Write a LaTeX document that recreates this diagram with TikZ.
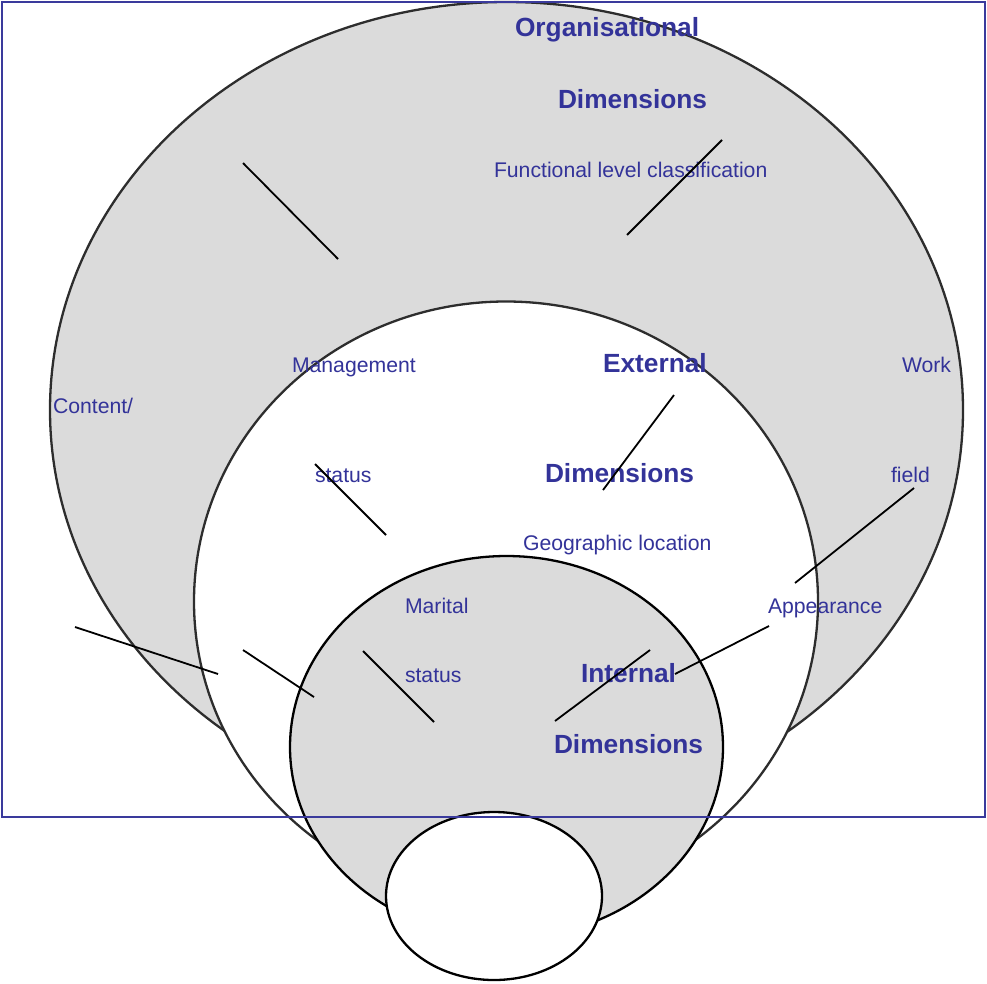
\documentclass[tikz,border=0pt]{standalone}
\usepackage{fontspec}
\setmainfont{Liberation Sans}
\usetikzlibrary{shapes.geometric}
\definecolor{txtblue}{RGB}{51,51,153}
\definecolor{frameblue}{RGB}{58,58,156}
\definecolor{shade}{RGB}{219,219,219}
\definecolor{rimgray}{RGB}{45,45,45}
\tikzset{
  ring/.style={ellipse, inner sep=0pt, outer sep=0pt, line width=2.3pt},
  lbl/.style={anchor=base west, inner sep=0pt, outer sep=0pt, text=txtblue,
              font=\fontsize{21.2}{25}\selectfont},
  head/.style={lbl, font=\fontsize{26.3}{30}\selectfont\bfseries},
  leader/.style={draw=black, line width=1.8pt},
}
\begin{document}
\begin{tikzpicture}[x=1pt,y=-1pt]
\useasboundingbox (0,0) rectangle (987,983);
% circles
\node[ring, draw=rimgray, fill=shade, minimum width=913pt, minimum height=816pt] (org) at (506.5,410) {};
\node[ring, draw=rimgray, fill=white, minimum width=624pt, minimum height=600pt] (ext) at (506,601.5) {};
\node[ring, draw=black, fill=shade, minimum width=433pt, minimum height=382pt] (int) at (506.5,747) {};
\node[ring, draw=black, fill=white, minimum width=216pt, minimum height=168pt] (core) at (494,896) {};
% labels
\node[head] (t1) at (515,36) {Organisational};
\node[head] (t2) at (558,108) {Dimensions};
\node[lbl] (t3) at (494,177) {Functional level classification};
\node[lbl] (t4) at (292,372) {Management};
\node[lbl] (t5) at (53,413) {Content/};
\node[lbl] (t6) at (315,482) {status};
\node[head] (t7) at (603,372) {External};
\node[head] (t8) at (545,482) {Dimensions};
\node[lbl] (t9) at (902,372) {Work};
\node[lbl] (t10) at (891,482) {field};
\node[lbl] (t11) at (523,550) {Geographic location};
\node[lbl] (t12) at (405,613) {Marital};
\node[lbl] (t13) at (405,682) {status};
\node[lbl] (t14) at (768,613) {Appearance};
\node[head] (t15) at (581,682) {Internal};
\node[head] (t16) at (554,753) {Dimensions};
% leader line ends
\coordinate (a1) at (243,163); \coordinate (b1) at (338,259);
\coordinate (a2) at (722,140); \coordinate (b2) at (627,235);
\coordinate (a3) at (674,395); \coordinate (b3) at (603,490);
\coordinate (a4) at (315,464); \coordinate (b4) at (386,535);
\coordinate (a5) at (914,488); \coordinate (b5) at (795,583);
\coordinate (a6) at (75,627);  \coordinate (b6) at (218,674);
\coordinate (a7) at (243,650); \coordinate (b7) at (314,697);
\coordinate (a8) at (363,651); \coordinate (b8) at (434,722);
\coordinate (a9) at (650,650); \coordinate (b9) at (555,721);
\coordinate (a10) at (769,626); \coordinate (b10) at (675,674);
\foreach \i in {1,...,10} { \draw[leader] (a\i) -- (b\i); }
% frame
\coordinate (f1) at (2,2); \coordinate (f2) at (985,817);
\draw[frameblue, line width=2pt] (f1) rectangle (f2);
\end{tikzpicture}
\end{document}
